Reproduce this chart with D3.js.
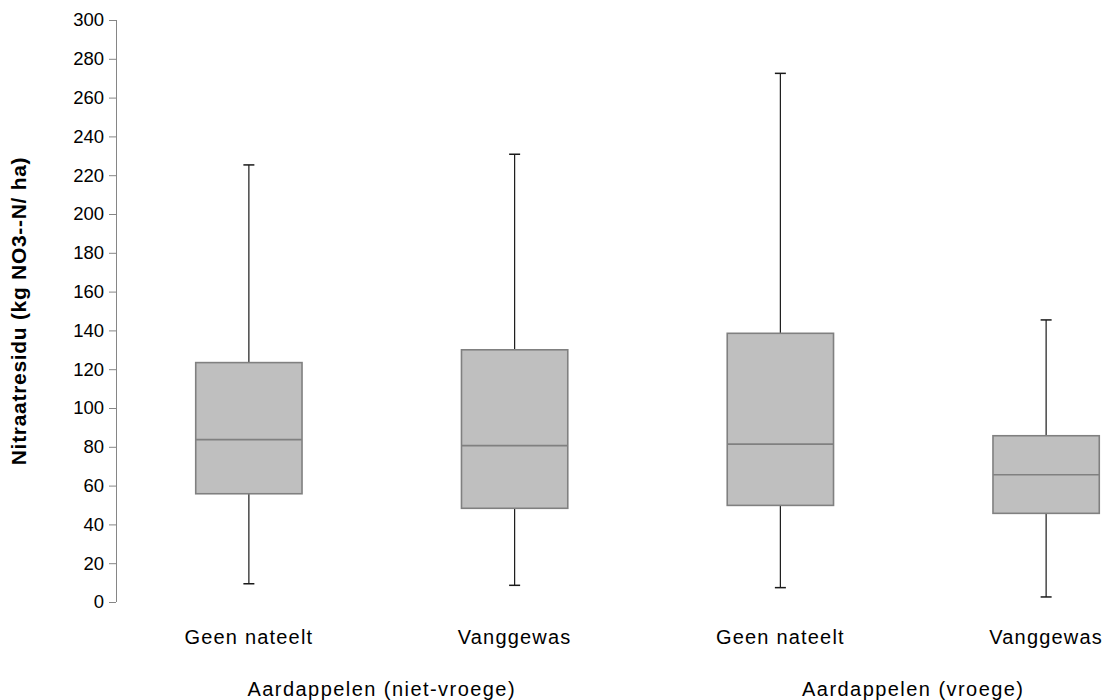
<!DOCTYPE html>
<html>
<head>
<meta charset="utf-8">
<script src="https://cdn.jsdelivr.net/npm/d3@7"></script>
<style>
  body { margin: 0; background: #fff; }
  text { font-family: "Liberation Sans", Arial, sans-serif; fill: #000; }
</style>
</head>
<body>
<div id="graph"></div>
<script>
// Data
const categories = ["Geen nateelt", "Vanggewas", "Geen nateelt", "Vanggewas"];
const groups = ["Aardappelen (niet-vroege)", "Aardappelen (vroege)"];
const whiskerLow = [9.4, 8.6, 7.4, 2.6];
const q1 = [55.8, 48.3, 49.8, 45.7];
const median = [83.7, 80.6, 81.4, 65.6];
const q3 = [123.4, 130, 138.5, 85.7];
const whiskerHigh = [225.3, 230.8, 272.5, 145.4];
const yTicks = d3.range(0, 301, 20);

const data = categories.map((c, i) => ({
  key: i,
  name: c,
  low: whiskerLow[i],
  q1: q1[i],
  median: median[i],
  q3: q3[i],
  high: whiskerHigh[i],
}));

// Size
const WIDTH = 1110;
const HEIGHT = 700;

// Scales (the plot runs past the right edge of the picture)
const x = d3.scaleBand().domain(data.map((d) => d.key)).range([116, 1179]);
const y = d3.scaleLinear().domain([0, 300]).range([602, 20]);

const boxWidth = x.bandwidth() * 0.4;
const capWidth = 11;

const svg = d3
  .select("#graph")
  .append("svg")
  .attr("width", WIDTH)
  .attr("height", HEIGHT);

// y axis
const yAxis = svg
  .append("g")
  .attr("transform", "translate(116,0)")
  .call(d3.axisLeft(y).tickValues(yTicks).tickSize(7).tickPadding(5));

yAxis.select(".domain").attr("stroke", "#868686").attr("d", "M0.5," + y(0) + "V" + y(300));
yAxis.selectAll(".tick line").attr("stroke", "#868686");
yAxis
  .selectAll(".tick text")
  .style("font-size", "18.5px")
  .attr("fill", "#000");

// y axis title
svg
  .append("text")
  .attr("transform", "translate(26," + (y(0) + y(300)) / 2 + ") rotate(-90)")
  .attr("text-anchor", "middle")
  .style("font-size", "21px")
  .style("font-weight", "bold")
  .style("letter-spacing", "0.7px")
  .text("Nitraatresidu (kg NO3--N/ ha)");

// Boxes
const box = svg
  .selectAll(".box")
  .data(data)
  .enter()
  .append("g")
  .attr("class", "box");

const cx = (d) => x(d.key) + x.bandwidth() / 2;

// whiskers
box
  .append("line")
  .attr("x1", cx)
  .attr("x2", cx)
  .attr("y1", (d) => y(d.high))
  .attr("y2", (d) => y(d.low))
  .attr("stroke", "#1a1a1a")
  .attr("stroke-width", 1.2);

box
  .selectAll(".cap")
  .data((d) => [d, d].map((v, j) => ({ cx: cx(d), v: j ? d.low : d.high })))
  .enter()
  .append("line")
  .attr("class", "cap")
  .attr("x1", (c) => c.cx - capWidth / 2)
  .attr("x2", (c) => c.cx + capWidth / 2)
  .attr("y1", (c) => y(c.v))
  .attr("y2", (c) => y(c.v))
  .attr("stroke", "#1a1a1a")
  .attr("stroke-width", 1.5);

box
  .append("rect")
  .attr("x", (d) => cx(d) - boxWidth / 2)
  .attr("width", boxWidth)
  .attr("y", (d) => y(d.q3))
  .attr("height", (d) => y(d.q1) - y(d.q3))
  .attr("fill", "#bfbfbf")
  .attr("stroke", "#808080")
  .attr("stroke-width", 1.6);

box
  .append("line")
  .attr("x1", (d) => cx(d) - boxWidth / 2)
  .attr("x2", (d) => cx(d) + boxWidth / 2)
  .attr("y1", (d) => y(d.median))
  .attr("y2", (d) => y(d.median))
  .attr("stroke", "#808080")
  .attr("stroke-width", 1.6);

// Category labels
svg
  .selectAll(".cat-label")
  .data(data)
  .enter()
  .append("text")
  .attr("class", "cat-label")
  .attr("x", cx)
  .attr("y", 644)
  .attr("text-anchor", "middle")
  .style("font-size", "20px")
  .style("letter-spacing", "1.2px")
  .text((d) => d.name);

// Group labels
svg
  .selectAll(".group-label")
  .data(groups)
  .enter()
  .append("text")
  .attr("class", "group-label")
  .attr("x", (g, i) => x(i * 2) + x.bandwidth())
  .attr("y", 696)
  .attr("text-anchor", "middle")
  .style("font-size", "20px")
  .style("letter-spacing", "1.45px")
  .text((g) => g);
</script>
</body>
</html>
